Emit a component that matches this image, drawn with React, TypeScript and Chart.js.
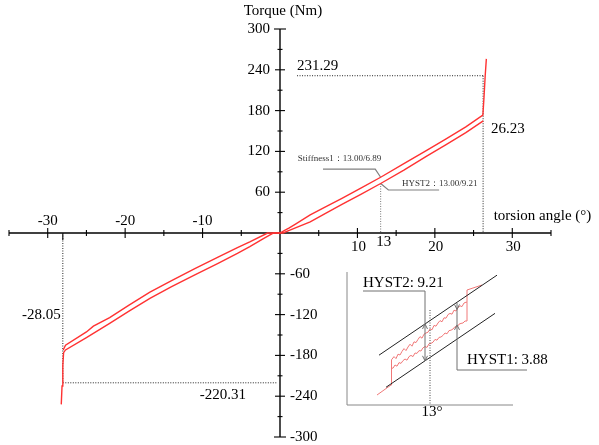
import { useEffect, useRef } from 'react';
import { Chart, registerables } from 'chart.js';

Chart.register(...registerables);

const FONT = '"Liberation Serif", "Times New Roman", serif';

// Torsion angle (°) / torque (Nm) pairs of the two branches of the hysteresis loop
const upperBranch: [number, number][] = [
  [-28.0, -172], [-27.7, -165], [-25, -145.5], [-24.1, -137], [-22, -124.5], [-19.5, -106],
  [-16.8, -87], [-14, -70], [-11, -52.5], [-8, -35.5], [-5.5, -21.5], [-3.9, -13],
  [-1.6, 0], [0, 0], [0.6, 4], [1.2, 7.5], [2, 13], [3.9, 26.5], [6, 39], [8, 51],
  [10.5, 66.5], [13, 82], [16, 102], [19, 122], [21.4, 138], [24, 156], [26.2, 173.5],
  [26.35, 200], [26.5, 231], [26.65, 256],
];
const lowerBranch: [number, number][] = [
  [-28.25, -252], [-28.15, -225], [-28.05, -195], [-27.95, -176], [-27.7, -172],
  [-25, -154], [-22, -133], [-19.5, -115], [-16.8, -96], [-14, -79], [-11, -61.5],
  [-8, -44.5], [-5.5, -30], [-3.9, -20], [-2.2, -8.5], [-1.0, -1], [-0.8, 0], [0.4, 0],
  [1.2, 4], [3.9, 16.2], [6, 29.5], [8, 42], [10.5, 57], [13, 72.8], [16, 92.5],
  [19, 113.5], [21.4, 129.5], [24, 147.5], [26.25, 165],
];

// Axis ticks and labels
const xTicks = [-35, -30, -25, -20, -15, -10, -5, 5, 10, 15, 20, 25, 30, 35];
const xLabelsNeg = [-30, -20, -10];
const xLabelsPos = [10, 20, 30];
const yTicks = [-300, -270, -240, -210, -180, -150, -120, -90, -60, -30, 30, 60, 90, 120, 150, 180, 210, 240, 270, 300];
const yLabelsPos = [300, 240, 180, 120, 60];
const yLabelsNeg = [-60, -120, -180, -240, -300];

// Marked values
const markAngle = 13;
const maxAngle = 26.23;
const maxTorque = 231.29;
const minAngle = -28.05;
const minTorque = -220.31;
const stiffnessText = 'Stiffness1：13.00/6.89';
const hystText = 'HYST2：13.00/9.21';

// Magnified detail of the loop around 13° (angle °, torque Nm)
const detailUpper: [number, number][] = [
  [10.35, 71], [11.05, 73.5], [11.05, 79.75],
  [11.1, 79.8], [11.2, 80.6], [11.3, 80.1], [11.4, 81.2], [11.5, 81.0], [11.6, 81.9],
  [11.7, 82.6], [11.8, 82.1], [11.9, 83.0], [12.0, 83.7], [12.1, 83.2], [12.2, 84.3],
  [12.3, 84.1], [12.4, 84.9], [12.5, 85.6], [12.6, 85.2], [12.7, 86.2], [12.8, 86.5],
  [12.9, 86.7], [13.0, 87.5], [13.1, 87.3], [13.2, 88.4], [13.3, 88.2], [13.4, 89.0],
  [13.5, 89.6], [13.6, 89.3], [13.7, 90.3], [13.8, 90.2], [13.9, 91.1], [14.0, 91.4],
  [14.1, 91.2], [14.2, 92.2], [14.3, 92.0], [14.4, 92.8], [14.5, 93.3], [14.6, 93.1],
  [14.7, 94.0], [14.8, 94.2], [14.85, 94.2], [14.85, 97.25], [15.6, 98.5],
];
const detailLower: [number, number][] = [
  [11.05, 77.75], [11.15, 77.7], [11.25, 78.5], [11.35, 78.2], [11.45, 79.1], [11.55, 78.9],
  [11.65, 79.6], [11.75, 80.0], [11.85, 79.7], [11.95, 80.6], [12.05, 80.9], [12.15, 80.6],
  [12.25, 81.5], [12.35, 81.4], [12.45, 82.1], [12.55, 82.0], [12.65, 82.8], [12.75, 83.1],
  [12.85, 82.9], [12.95, 83.8], [13.05, 83.9], [13.15, 84.2], [13.25, 84.9], [13.35, 84.7],
  [13.45, 85.4], [13.55, 85.5], [13.65, 85.9], [13.75, 86.5], [13.85, 86.3], [13.95, 87.1],
  [14.05, 87.2], [14.15, 87.5], [14.25, 88.1], [14.35, 88.0], [14.45, 88.7], [14.55, 88.9],
  [14.65, 89.0], [14.75, 89.5], [14.85, 89.5], [14.85, 94.2],
];
const envelopeUpper: [number, number][] = [[10.45, 80.96], [16.35, 100.96]];
const envelopeLower: [number, number][] = [[10.8, 72.93], [16.25, 91.41]];
const hyst2Value = 9.21;
const hyst1Value = 3.88;
const hyst2Angle = 12.75;
const hyst1Angle = 14.35;
const hyst1Top = 92.4;

const toPoints = (arr: [number, number][]) => arr.map(([x, y]) => ({ x, y }));

const lineAt = (seg: [number, number][], x: number) => {
  const [[x0, y0], [x1, y1]] = seg;
  return y0 + ((y1 - y0) * (x - x0)) / (x1 - x0);
};

function seg(ctx: CanvasRenderingContext2D, pts: number[][]) {
  ctx.beginPath();
  ctx.moveTo(pts[0][0], pts[0][1]);
  for (let i = 1; i < pts.length; i++) ctx.lineTo(pts[i][0], pts[i][1]);
  ctx.stroke();
}

function text(
  ctx: CanvasRenderingContext2D,
  s: string,
  x: number,
  y: number,
  align: CanvasTextAlign,
  size: number,
  color = '#000'
) {
  ctx.font = `${size}px ${FONT}`;
  ctx.fillStyle = color;
  ctx.textAlign = align;
  ctx.textBaseline = 'middle';
  ctx.fillText(s, x, y);
}

function arrowHead(ctx: CanvasRenderingContext2D, x: number, y: number, dir: number) {
  // dir = -1 points up, +1 points down; (x, y) is the tip
  seg(ctx, [[x - 2.5, y - dir * 5], [x, y], [x + 2.5, y - dir * 5]]);
}

const torsionPlugin = {
  id: 'torsionDecor',
  beforeDatasetsDraw(chart: any) {
    const ctx: CanvasRenderingContext2D = chart.ctx;
    const X = (v: number) => chart.scales.x.getPixelForValue(v);
    const Y = (v: number) => chart.scales.y.getPixelForValue(v);
    const ox = X(0);
    const oy = Y(0);
    ctx.save();
    ctx.strokeStyle = '#000';
    ctx.lineWidth = 1.4;
    seg(ctx, [[X(-35), oy], [X(35), oy]]);
    seg(ctx, [[ox, Y(300)], [ox, Y(-300)]]);
    ctx.lineWidth = 1.1;
    for (const v of xTicks) {
      const h = v % 10 === 0 ? 5 : 3;
      seg(ctx, [[X(v), oy - h], [X(v), oy + h]]);
    }
    for (const v of yTicks) {
      const h = Math.abs(v) === 300 ? 6 : v % 60 === 0 ? 5 : 2.5;
      seg(ctx, [[ox - h, Y(v)], [ox + h, Y(v)]]);
    }
    seg(ctx, [[X(minAngle), oy], [X(minAngle), oy + 7]]);

    // tick labels
    for (const v of yLabelsPos) text(ctx, String(v), ox - 10, Y(v), 'right', 15);
    for (const v of yLabelsNeg) text(ctx, String(v), ox + 10, Y(v), 'left', 15);
    for (const v of xLabelsNeg) text(ctx, String(v), X(v), oy - 12, 'center', 15);
    for (const v of xLabelsPos) text(ctx, String(v), X(v) + 1, oy + 14, 'center', 15);
    text(ctx, String(markAngle), X(markAngle) + 3, oy + 9, 'center', 15);
    text(ctx, 'Torque (Nm)', ox + 3, Y(300) - 18, 'center', 15);
    text(ctx, 'torsion angle (°)', X(27.6), oy - 17, 'left', 15);

    // dotted guide lines to the extreme points
    ctx.strokeStyle = '#222';
    ctx.lineWidth = 1;
    ctx.setLineDash([1, 1.5]);
    seg(ctx, [[X(2.2), Y(maxTorque)], [X(maxAngle), Y(maxTorque)]]);
    seg(ctx, [[X(maxAngle), Y(maxTorque)], [X(maxAngle), oy]]);
    seg(ctx, [[X(minAngle), oy], [X(minAngle), Y(minTorque)]]);
    seg(ctx, [[X(minAngle), Y(minTorque)], [X(-0.4), Y(minTorque)]]);
    ctx.strokeStyle = '#777';
    seg(ctx, [[X(markAngle), Y(72.8)], [X(markAngle), oy]]);
    ctx.setLineDash([]);

    text(ctx, maxTorque.toFixed(2), X(2.2), Y(maxTorque) - 10, 'left', 15);
    text(ctx, maxAngle.toFixed(2), X(maxAngle) + 8, Y(153), 'left', 15);
    text(ctx, minAngle.toFixed(2), X(minAngle) - 2, Y(-121), 'right', 15);
    text(ctx, minTorque.toFixed(2), X(-4.4), Y(minTorque) + 12, 'right', 15);

    // leaders for the stiffness / hysteresis readings at 13°
    ctx.strokeStyle = '#808080';
    ctx.lineWidth = 1.2;
    seg(ctx, [[X(5.55), Y(94)], [X(12.3), Y(94)], [X(markAngle), Y(82)]]);
    seg(ctx, [[X(markAngle), Y(72.8)], [X(14.0), Y(63.2)], [X(20.55), Y(63.2)]]);
    text(ctx, stiffnessText, X(2.3), Y(110), 'left', 9, '#333');
    text(ctx, hystText, X(15.75), Y(72.8), 'left', 9, '#333');
    ctx.restore();
  },
  afterDatasetsDraw(chart: any) {
    const ctx: CanvasRenderingContext2D = chart.ctx;
    const X = (v: number) => chart.scales.xi.getPixelForValue(v);
    const Y = (v: number) => chart.scales.yi.getPixelForValue(v);
    ctx.save();
    ctx.strokeStyle = '#888';
    ctx.lineWidth = 1;
    // detail frame
    seg(ctx, [[X(8.85), Y(101.75)], [X(8.85), Y(68.5)], [X(17.15), Y(68.5)]]);
    // 13° marker
    ctx.strokeStyle = '#444';
    ctx.setLineDash([1, 1.5]);
    seg(ctx, [[X(markAngle), Y(92.25)], [X(markAngle), Y(68.5)]]);
    ctx.setLineDash([]);
    text(ctx, '13°', X(13.1), Y(66.75), 'center', 15);

    ctx.strokeStyle = '#707070';
    ctx.lineWidth = 1;
    // HYST2 between the two envelopes
    const eTop = lineAt(envelopeUpper, hyst2Angle);
    const eBot = eTop - hyst2Value;
    seg(ctx, [[X(9.65), Y(97)], [X(hyst2Angle), Y(97)], [X(hyst2Angle), Y(eBot)]]);
    arrowHead(ctx, X(hyst2Angle), Y(eTop), -1);
    arrowHead(ctx, X(hyst2Angle), Y(eBot), 1);
    text(ctx, `HYST2: ${hyst2Value.toFixed(2)}`, X(9.65), Y(99), 'left', 15);

    // HYST1 between the two loop branches
    const hBot = hyst1Top - hyst1Value;
    seg(ctx, [[X(hyst1Angle), Y(94)], [X(hyst1Angle), Y(77.25)], [X(17.85), Y(77.25)]]);
    arrowHead(ctx, X(hyst1Angle), Y(hyst1Top), 1);
    arrowHead(ctx, X(hyst1Angle), Y(hBot), -1);
    text(ctx, `HYST1: ${hyst1Value.toFixed(2)}`, X(14.85), Y(79.75), 'left', 15);
    ctx.restore();
  },
};

export default function App() {
  const canvasRef = useRef<HTMLCanvasElement | null>(null);

  useEffect(() => {
    if (!canvasRef.current) return;
    const red = 'rgb(255,50,50)';
    const pink = 'rgb(240,120,120)';
    const common = { showLine: true, pointRadius: 0, tension: 0, fill: false, clip: false as any };
    const chart = new Chart(canvasRef.current, {
      type: 'scatter',
      data: {
        datasets: [
          { ...common, data: toPoints(upperBranch), borderColor: red, borderWidth: 1.4, xAxisID: 'x', yAxisID: 'y' },
          { ...common, data: toPoints(lowerBranch), borderColor: red, borderWidth: 1.4, xAxisID: 'x', yAxisID: 'y' },
          { ...common, data: toPoints(envelopeUpper), borderColor: '#222', borderWidth: 1, xAxisID: 'xi', yAxisID: 'yi' },
          { ...common, data: toPoints(envelopeLower), borderColor: '#222', borderWidth: 1, xAxisID: 'xi', yAxisID: 'yi' },
          { ...common, data: toPoints(detailUpper), borderColor: pink, borderWidth: 1, xAxisID: 'xi', yAxisID: 'yi' },
          { ...common, data: toPoints(detailLower), borderColor: pink, borderWidth: 1, xAxisID: 'xi', yAxisID: 'yi' },
        ],
      },
      options: {
        animation: false,
        responsive: false,
        devicePixelRatio: 1,
        layout: { padding: { left: 9, right: 48, top: 29, bottom: 8 } },
        plugins: { legend: { display: false }, tooltip: { enabled: false } },
        events: [],
        scales: {
          x: { type: 'linear', min: -35, max: 35, display: false },
          y: { type: 'linear', min: -300, max: 300, display: false },
          xi: { type: 'linear', axis: 'x', min: -8.05, max: 19.05, display: false },
          yi: { type: 'linear', axis: 'y', min: 60.5, max: 162.5, display: false },
        },
      },
      plugins: [torsionPlugin],
    });
    return () => chart.destroy();
  }, []);

  return (
    <div style={{ position: 'fixed', left: 0, top: 0, width: 599, height: 445, background: '#fff' }}>
      <canvas ref={canvasRef} width={599} height={445} style={{ display: 'block' }} />
    </div>
  );
}
